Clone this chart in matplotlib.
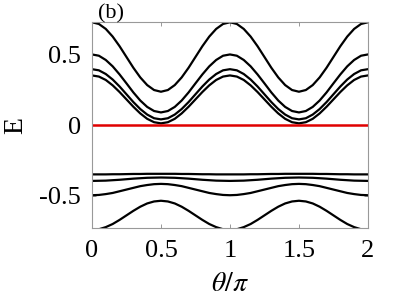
import numpy as np
import matplotlib
matplotlib.use("Agg")
import matplotlib.pyplot as plt

plt.rcParams.update({
    "font.family": "Liberation Serif",
    "mathtext.fontset": "stix",
    "font.size": 19,
})

# theta/pi samples over 0 .. 2
THETA = [0.00, 0.05, 0.10, 0.15, 0.20, 0.25, 0.30, 0.35, 0.40, 0.45, 0.50,
         0.55, 0.60, 0.65, 0.70, 0.75, 0.80, 0.85, 0.90, 0.95, 1.00,
         1.05, 1.10, 1.15, 1.20, 1.25, 1.30, 1.35, 1.40, 1.45, 1.50,
         1.55, 1.60, 1.65, 1.70, 1.75, 1.80, 1.85, 1.90, 1.95, 2.00]

# upper bands, half period 0 .. 0.5
UP1 = [0.725, 0.713, 0.678, 0.624, 0.556, 0.480, 0.404, 0.336, 0.282, 0.247, 0.235]
UP2 = [0.498, 0.489, 0.459, 0.414, 0.357, 0.294, 0.230, 0.173, 0.128, 0.099, 0.089]
UP3 = [0.394, 0.386, 0.360, 0.321, 0.272, 0.217, 0.162, 0.113, 0.074, 0.048, 0.040]
UP4 = [0.350, 0.342, 0.318, 0.280, 0.233, 0.181, 0.129, 0.082, 0.044, 0.020, 0.012]

# lower bands, half period 0 .. 0.5
LO1 = [-0.348, -0.348, -0.348, -0.347, -0.347, -0.346, -0.345, -0.345, -0.344, -0.344, -0.344]
LO2 = [-0.394, -0.393, -0.392, -0.389, -0.386, -0.382, -0.378, -0.375, -0.372, -0.371, -0.370]
LO3 = [-0.495, -0.493, -0.487, -0.479, -0.467, -0.455, -0.443, -0.431, -0.423, -0.417, -0.415]
LO4 = [-0.740, -0.735, -0.720, -0.698, -0.669, -0.637, -0.605, -0.576, -0.553, -0.539, -0.534]

ZERO_MODE = 0.0


def full_curve(half):
    # symmetric about 0.5, periodic with period 1 in theta/pi
    period = half + half[-2::-1]
    return period + period[1:]


fig = plt.figure(figsize=(4.07, 3.05), dpi=100)
ax = fig.add_axes([0.226, 0.253, 0.678, 0.674])

for band in [UP1, UP2, UP3, UP4, LO1, LO2, LO3, LO4]:
    ax.plot(THETA, full_curve(band), color="black", linewidth=1.6)
ax.plot([THETA[0], THETA[-1]], [ZERO_MODE, ZERO_MODE], color="#e00000", linewidth=1.8)

ax.set_xlim(0, 2)
ax.set_ylim(-0.725, 0.725)
ax.set_xticks([0, 0.5, 1, 1.5, 2])
ax.set_xticklabels(["0", "0.5", "1", "1.5", "2"])
ax.set_yticks([-0.5, 0, 0.5])
ax.set_yticklabels(["-0.5", "0", "0.5"])
ax.tick_params(direction="in", length=3, width=0.6, top=True, right=True,
               color="#888888")
ax.tick_params(axis="x", pad=9)
ax.tick_params(axis="y", pad=8)
for sp in ax.spines.values():
    sp.set_color("#999999")
    sp.set_linewidth(0.8)

ax.set_xlabel(r"$\theta/\pi$", fontsize=20, labelpad=7)
fig.text(0.038, 0.587, "E", fontsize=20, rotation=90, ha="center", va="center")
fig.text(0.241, 0.94, "(b)", fontsize=16)

fig.savefig("out.png", dpi=100)
